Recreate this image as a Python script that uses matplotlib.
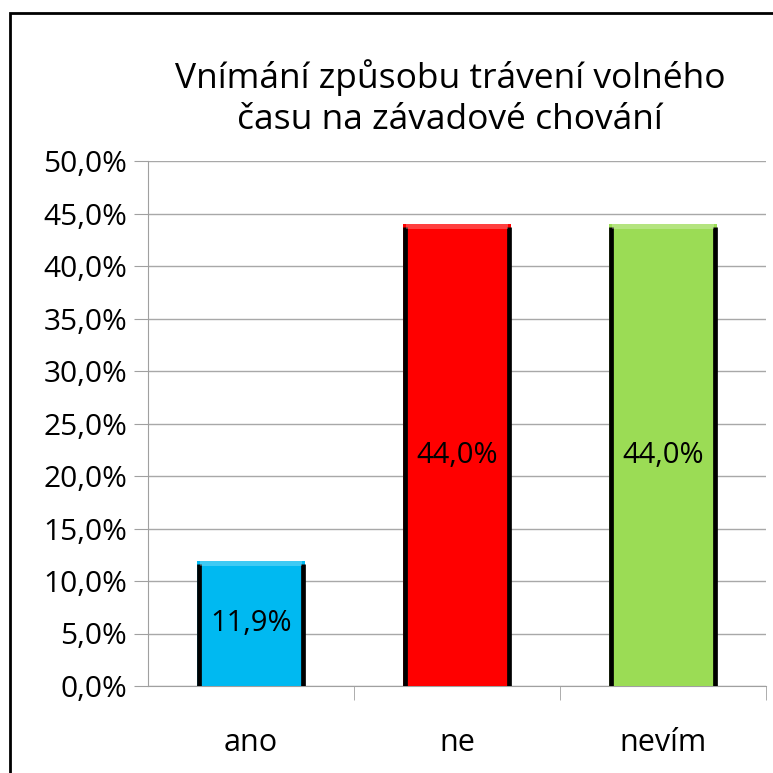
import matplotlib.pyplot as plt
from matplotlib.patches import Rectangle
from matplotlib.ticker import FuncFormatter, MultipleLocator

categories = ["ano", "ne", "nevím"]
values = [11.9, 44.0, 44.0]
colors = ["#00B9F1", "#FF0000", "#9BDC55"]
title = "Vnímání způsobu trávení volného\nčasu na závadové chování"

plt.rcParams["font.family"] = ["Open Sans", "DejaVu Sans"]

fig = plt.figure(figsize=(7.73, 7.73), dpi=100)
ax = fig.add_axes([148 / 773, 1 - 686 / 773, (766 - 148) / 773, (686 - 161) / 773])

x = list(range(len(categories)))
bars = ax.bar(x, values, width=0.52, color=colors, zorder=3)

# black sides and a light bevel on top
for b, c in zip(bars, colors):
    x0 = b.get_x()
    x1 = x0 + b.get_width()
    h = b.get_height()
    ax.vlines([x0 + 0.006, x1 - 0.006], 0, h - 0.25, color="black", lw=3.4, zorder=4)
    ax.add_patch(Rectangle((x0 + 0.012, h - 0.5), b.get_width() - 0.024, 0.5,
                           facecolor="white", alpha=0.25, lw=0, zorder=4))
    ax.text(b.get_x() + b.get_width() / 2, h / 2, f"{h:.1f}%".replace(".", ","),
            ha="center", va="center", fontsize=21, zorder=5)

ax.set_xlim(-0.5, 2.5)
ax.set_ylim(0, 50)
ax.yaxis.set_major_locator(MultipleLocator(5))
ax.yaxis.set_major_formatter(FuncFormatter(lambda v, p: f"{v:.1f}%".replace(".", ",")))
ax.set_xticks(x)
ax.set_xticklabels(categories)
ax.set_xticks([0.5, 1.5, 2.5], minor=True)
ax.tick_params(axis="x", which="major", length=0, pad=30, labelsize=22)
ax.tick_params(axis="x", which="minor", length=10, color="#A0A0A0")
ax.tick_params(axis="y", length=10, color="#A0A0A0", labelsize=21.5, pad=5)
ax.grid(axis="y", color="#A8A8A8", lw=1, zorder=0)

for s in ["top", "right"]:
    ax.spines[s].set_visible(False)
for s in ["left", "bottom"]:
    ax.spines[s].set_color("#A0A0A0")

fig.text(450 / 773, 1 - 98 / 773, title, ha="center", va="center",
         fontsize=25.5, linespacing=1.25)

frame = Rectangle((10 / 773, -0.1), 1.2, 1 - 13 / 773 + 0.1, transform=fig.transFigure,
                  fill=False, edgecolor="black", lw=2)
fig.patches.append(frame)

fig.savefig("out.png", dpi=100)
